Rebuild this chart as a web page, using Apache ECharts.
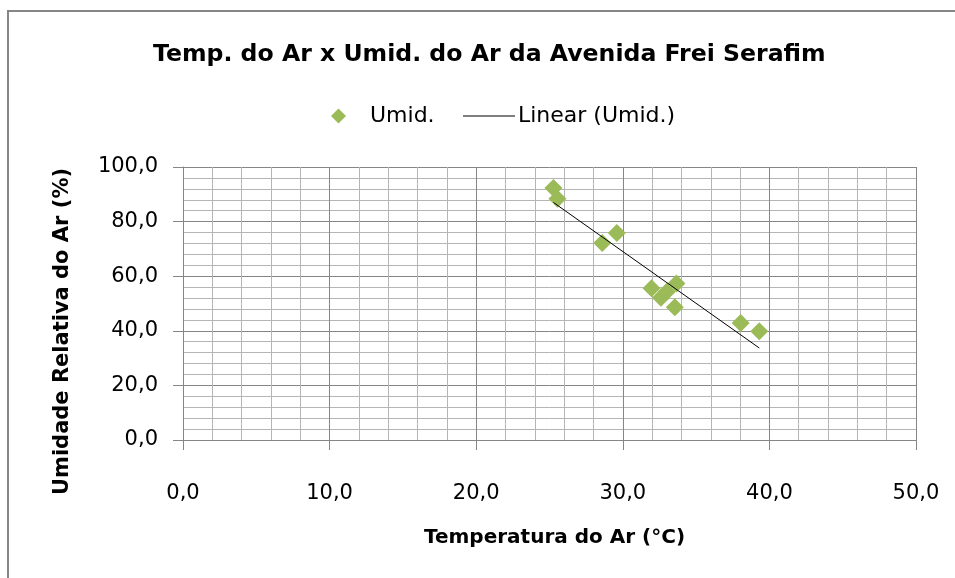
<!DOCTYPE html>
<html>
<head>
<meta charset="utf-8">
<script src="https://cdn.jsdelivr.net/npm/echarts@6/dist/echarts.min.js"></script>
<style>html,body{margin:0;padding:0;background:#fff}#c{width:955px;height:578px}</style>
</head>
<body>
<div id="c"></div>
<script>
const titleText = 'Temp. do Ar x Umid. do Ar da Avenida Frei Serafim';
const xAxisName = 'Temperatura do Ar (°C)';
const yAxisName = 'Umidade Relativa do Ar (%)';
const seriesName = 'Umid.';
const trendName = 'Linear (Umid.)';
const temperatura = [25.27, 25.54, 28.6, 29.59, 31.96, 32.6, 33.0, 33.66, 33.55, 38.04, 39.31];
const umidade = [92.3, 88.4, 72.2, 75.8, 55.6, 52.1, 54.3, 57.3, 48.6, 42.9, 39.8];

// linear regression (Excel trendline)
const n = temperatura.length;
const mx = temperatura.reduce((a, b) => a + b, 0) / n;
const my = umidade.reduce((a, b) => a + b, 0) / n;
let sxy = 0, sxx = 0;
for (let i = 0; i < n; i++) { sxy += (temperatura[i] - mx) * (umidade[i] - my); sxx += (temperatura[i] - mx) ** 2; }
const slope = sxy / sxx, intercept = my - slope * mx;
const xmin = Math.min(...temperatura), xmax = Math.max(...temperatura);
const trend = [[xmin, intercept + slope * xmin], [xmax, intercept + slope * xmax]];

const FONT = 'DejaVu Sans';
const fmt = v => v.toFixed(1).replace('.', ',');
const chart = echarts.init(document.getElementById('c'), null, {renderer: 'canvas'});
chart.setOption({
  animation: false,
  backgroundColor: '#fff',
  graphic: [{type: 'rect', shape: {x: 8, y: 11, width: 1000, height: 1000}, style: {fill: 'none', stroke: '#868686', lineWidth: 2}}],
  title: {text: titleText, left: 148, top: 38,
          textStyle: {fontFamily: FONT, fontWeight: 'bold', fontSize: 23.6, color: '#000'}},
  legend: [
    {data: [{name: seriesName, icon: 'diamond'}], left: 326, top: 100, itemWidth: 15, itemHeight: 15, itemGap: 10,
     textStyle: {fontFamily: FONT, fontSize: 22, color: '#000', padding: [0, 0, 0, 19]}},
    {data: [{name: trendName, icon: 'rect'}], left: 458, top: 100, itemWidth: 52, itemHeight: 1, itemGap: 10,
     textStyle: {fontFamily: FONT, fontSize: 22, color: '#000', padding: [0, 0, 0, -2]}}
  ],
  grid: {left: 183, right: 39, top: 167, bottom: 138},
  xAxis: {
    type: 'value', min: 0, max: 50, interval: 10,
    name: xAxisName, nameLocation: 'middle', nameGap: 88,
    nameTextStyle: {fontFamily: FONT, fontWeight: 'bold', fontSize: 20, color: '#000', padding: [0, 0, 0, 10]},
    axisLine: {show: true, lineStyle: {color: '#868686', width: 1}},
    axisTick: {show: true, length: 10, lineStyle: {color: '#868686'}},
    axisLabel: {formatter: fmt, margin: 43, fontFamily: FONT, fontSize: 21, color: '#000'},
    splitLine: {show: true, lineStyle: {color: '#868686', width: 1}},
    minorTick: {show: false, splitNumber: 5},
    minorSplitLine: {show: true, lineStyle: {color: '#b5b5b5', width: 1}}
  },
  yAxis: {
    type: 'value', min: 0, max: 100, interval: 20,
    name: yAxisName, nameLocation: 'middle', nameGap: 110, nameRotate: 90,
    nameTextStyle: {fontFamily: FONT, fontWeight: 'bold', fontSize: 21, color: '#000', padding: [0, 56, 0, 0]},
    axisLine: {show: true, lineStyle: {color: '#868686', width: 1}},
    axisTick: {show: true, length: 10, lineStyle: {color: '#868686'}},
    axisLabel: {formatter: fmt, margin: 25, fontFamily: FONT, fontSize: 21, color: '#000'},
    splitLine: {show: true, lineStyle: {color: '#868686', width: 1}},
    minorTick: {show: false, splitNumber: 5},
    minorSplitLine: {show: true, lineStyle: {color: '#b5b5b5', width: 1}}
  },
  series: [
    {name: seriesName, type: 'scatter', symbol: 'diamond', symbolSize: 18,
     itemStyle: {color: '#9BBB59', opacity: 1}, data: temperatura.map((t, i) => [t, umidade[i]]), z: 3},
    {name: trendName, type: 'line', data: trend, showSymbol: false, symbol: 'none',
     lineStyle: {color: '#000', width: 1}, itemStyle: {color: '#000'}, z: 4}
  ]
});
</script>
</body>
</html>
